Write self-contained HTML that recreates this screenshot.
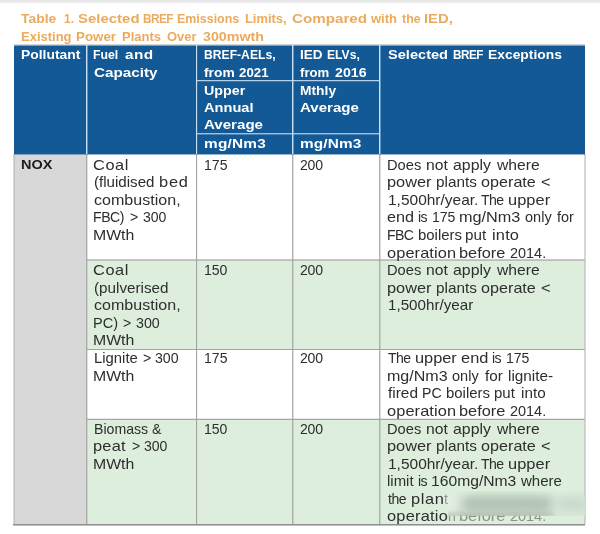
<!DOCTYPE html>
<html lang="en"><head><meta charset="utf-8"><title>Table 1. Selected BREF Emissions Limits</title>
<style>
html,body{margin:0;padding:0;}
body{width:600px;height:534px;position:relative;overflow:hidden;background:#fff;font-family:"Liberation Sans",sans-serif;}
.abs{position:absolute;}
.x{position:absolute;left:0;width:600px;height:20px;line-height:20px;white-space:pre;}
.x span{position:absolute;top:0;transform-origin:0 0;white-space:pre;}
.t{font-size:13.7px;font-weight:bold;color:#ebab5e;}
.h{font-size:13.6px;font-weight:bold;color:#fff;}
.b{font-size:14.5px;color:#2e2e2e;}
.n{font-size:13.6px;font-weight:bold;color:#1c1c1c;}
.x span.f{color:#8f9a90;}
.x span.g{color:#8a948b;filter:blur(0.5px);}
.sm{position:absolute;filter:blur(4px);border-radius:6px;}
</style></head>
<body>
<div class="abs" style="left:0;top:0;width:600px;height:4px;background:linear-gradient(#e6e6e6 0,#e9e9e9 45%,#f6f6f6 75%,#fff 100%)"></div>
<div class="abs" style="left:14px;top:45px;width:571px;height:109px;background:#135996;"></div>
<div class="abs" style="left:14px;top:44px;width:571px;height:1px;background:#d4d6d9;"></div>
<div class="abs" style="left:14px;top:45px;width:571px;height:1px;background:rgba(225,228,232,0.5);"></div>
<div class="abs" style="left:14px;top:154px;width:571px;height:1px;background:rgba(19,89,150,0.45);z-index:3"></div>
<div class="abs" style="left:14px;top:154px;width:73px;height:370px;background:#d8d8d8;"></div>
<div class="abs" style="left:87px;top:154px;width:498px;height:106px;background:#ffffff;"></div>
<div class="abs" style="left:87px;top:260px;width:498px;height:89px;background:#ddeedc;"></div>
<div class="abs" style="left:87px;top:349px;width:498px;height:70px;background:#ffffff;"></div>
<div class="abs" style="left:87px;top:419px;width:498px;height:105px;background:#ddeedc;"></div>
<div class="abs" style="left:87px;top:259px;width:498px;height:1px;background:rgba(165,165,165,0.62);"></div>
<div class="abs" style="left:87px;top:260px;width:498px;height:1px;background:rgba(165,165,165,0.62);"></div>
<div class="abs" style="left:87px;top:349px;width:498px;height:1px;background:rgba(165,165,165,1.00);"></div>
<div class="abs" style="left:87px;top:418px;width:498px;height:1px;background:rgba(165,165,165,0.25);"></div>
<div class="abs" style="left:87px;top:419px;width:498px;height:1px;background:rgba(165,165,165,1.00);"></div>
<div class="abs" style="left:86px;top:154px;width:1px;height:370px;background:rgba(165,165,165,0.88);"></div>
<div class="abs" style="left:87px;top:154px;width:1px;height:370px;background:rgba(165,165,165,0.37);"></div>
<div class="abs" style="left:196px;top:154px;width:1px;height:370px;background:rgba(165,165,165,1.00);"></div>
<div class="abs" style="left:197px;top:154px;width:1px;height:370px;background:rgba(165,165,165,0.12);"></div>
<div class="abs" style="left:292px;top:154px;width:1px;height:370px;background:rgba(165,165,165,0.87);"></div>
<div class="abs" style="left:293px;top:154px;width:1px;height:370px;background:rgba(165,165,165,0.38);"></div>
<div class="abs" style="left:379px;top:154px;width:1px;height:370px;background:rgba(165,165,165,0.87);"></div>
<div class="abs" style="left:380px;top:154px;width:1px;height:370px;background:rgba(165,165,165,0.38);"></div>
<div class="abs" style="left:13px;top:154px;width:1px;height:370px;background:rgba(170,170,170,0.45);"></div>
<div class="abs" style="left:14px;top:154px;width:1px;height:370px;background:rgba(170,170,170,0.45);"></div>
<div class="abs" style="left:584px;top:154px;width:1px;height:370px;background:rgba(185,185,185,0.60);"></div>
<div class="abs" style="left:585px;top:154px;width:1px;height:370px;background:rgba(185,185,185,0.60);"></div>
<div class="abs" style="left:13px;top:524px;width:572px;height:1px;background:#8e8e8e;"></div>
<div class="abs" style="left:13px;top:525px;width:572px;height:1px;background:rgba(120,120,120,0.45);"></div>
<div class="abs" style="left:86px;top:45px;width:1px;height:109px;background:rgba(200,224,246,1.00);"></div>
<div class="abs" style="left:87px;top:45px;width:1px;height:109px;background:rgba(200,224,246,0.43);"></div>
<div class="abs" style="left:196px;top:45px;width:1px;height:109px;background:rgba(200,224,246,1.00);"></div>
<div class="abs" style="left:197px;top:45px;width:1px;height:109px;background:rgba(200,224,246,0.14);"></div>
<div class="abs" style="left:292px;top:45px;width:1px;height:109px;background:rgba(200,224,246,1.00);"></div>
<div class="abs" style="left:293px;top:45px;width:1px;height:109px;background:rgba(200,224,246,0.44);"></div>
<div class="abs" style="left:379px;top:45px;width:1px;height:109px;background:rgba(200,224,246,1.00);"></div>
<div class="abs" style="left:380px;top:45px;width:1px;height:109px;background:rgba(200,224,246,0.44);"></div>
<div class="abs" style="left:197px;top:80px;width:183px;height:1px;background:rgba(200,224,246,0.88);"></div>
<div class="abs" style="left:197px;top:81px;width:183px;height:1px;background:rgba(200,224,246,0.22);"></div>
<div class="abs" style="left:197px;top:133px;width:183px;height:1px;background:rgba(200,224,246,0.77);"></div>
<div class="abs" style="left:197px;top:134px;width:183px;height:1px;background:rgba(200,224,246,0.33);"></div>
<div class="x t" style="top:8.85px"><span style="left:21.00px;transform:scaleX(1.0167)">Table</span> <span style="left:63.75px;transform:scaleX(0.8709)">1.</span> <span style="left:78.37px;transform:scaleX(1.0930)">Selected</span> <span style="left:142.96px;letter-spacing:-0.600px;transform:scaleX(0.8600)">BREF</span> <span style="left:177.42px;transform:scaleX(0.9089)">Emissions</span> <span style="left:245.19px;transform:scaleX(0.9415)">Limits,</span> <span style="left:291.53px;transform:scaleX(1.1077)">Compared</span> <span style="left:371.40px;transform:scaleX(0.9501)">with</span> <span style="left:402.00px;transform:scaleX(0.9055)">the</span> <span style="left:423.57px;transform:scaleX(1.0809)">IED,</span></div>
<div class="x t" style="top:27.05px"><span style="left:20.79px;transform:scaleX(0.9485)">Existing</span> <span style="left:76.17px;transform:scaleX(0.9735)">Power</span> <span style="left:121.68px;transform:scaleX(0.9521)">Plants</span> <span style="left:166.59px;transform:scaleX(0.9476)">Over</span> <span style="left:202.78px;transform:scaleX(1.0424)">300mwth</span></div>
<div class="x h" style="top:44.59px"><span style="left:20.73px;transform:scaleX(1.0200)">Pollutant</span></div>
<div class="x h" style="top:44.79px"><span style="left:93.48px;transform:scaleX(0.9029)">Fuel</span> <span style="left:125.26px;letter-spacing:0.399px;transform:scaleX(1.1300)">and</span></div>
<div class="x h" style="top:62.79px"><span style="left:93.77px;transform:scaleX(1.1224)">Capacity</span></div>
<div class="x h" style="top:44.79px"><span style="left:203.64px;transform:scaleX(0.8937)">BREF-AELs,</span></div>
<div class="x h" style="top:62.79px"><span style="left:204.18px;transform:scaleX(1.0144)">from</span> <span style="left:239.38px;transform:scaleX(0.9766)">2021</span></div>
<div class="x h" style="top:80.59px"><span style="left:203.93px;transform:scaleX(1.0504)">Upper</span></div>
<div class="x h" style="top:97.79px"><span style="left:204.37px;transform:scaleX(1.0739)">Annual</span></div>
<div class="x h" style="top:114.79px"><span style="left:204.36px;transform:scaleX(1.1098)">Average</span></div>
<div class="x h" style="top:133.89px"><span style="left:203.64px;letter-spacing:0.197px;transform:scaleX(1.1300)">mg/Nm3</span></div>
<div class="x h" style="top:44.79px"><span style="left:299.65px;transform:scaleX(0.9953)">IED</span> <span style="left:327.24px;transform:scaleX(0.8910)">ELVs,</span></div>
<div class="x h" style="top:62.79px"><span style="left:300.09px;transform:scaleX(0.9665)">from</span> <span style="left:334.56px;transform:scaleX(1.0444)">2016</span></div>
<div class="x h" style="top:80.59px"><span style="left:299.84px;transform:scaleX(1.0160)">Mthly</span></div>
<div class="x h" style="top:97.79px"><span style="left:300.46px;transform:scaleX(1.1079)">Average</span></div>
<div class="x h" style="top:133.89px"><span style="left:299.74px;letter-spacing:0.108px;transform:scaleX(1.1300)">mg/Nm3</span></div>
<div class="x h" style="top:44.69px"><span style="left:387.87px;transform:scaleX(1.0737)">Selected</span> <span style="left:452.77px;letter-spacing:-0.552px;transform:scaleX(0.8600)">BREF</span> <span style="left:487.88px;transform:scaleX(1.0196)">Exceptions</span></div>
<div class="x n" style="top:154.79px"><span style="left:20.79px;transform:scaleX(1.0667)">NOX</span></div>
<div class="x b" style="top:154.68px"><span style="left:93.33px;letter-spacing:0.487px;transform:scaleX(1.1300)">Coal</span></div>
<div class="x b" style="top:172.28px"><span style="left:94.39px;transform:scaleX(1.0418)">(fluidised</span> <span style="left:158.98px;letter-spacing:0.711px;transform:scaleX(1.1300)">bed</span></div>
<div class="x b" style="top:189.88px"><span style="left:93.60px;transform:scaleX(1.1077)">combustion,</span></div>
<div class="x b" style="top:207.48px"><span style="left:93.30px;letter-spacing:-0.477px;transform:scaleX(0.9700)">FBC)</span> <span style="left:130.12px;transform:scaleX(0.9700)">&gt;</span> <span style="left:142.56px;letter-spacing:-0.040px;transform:scaleX(0.9700)">300</span></div>
<div class="x b" style="top:225.08px"><span style="left:93.16px;transform:scaleX(1.0916)">MWth</span></div>
<div class="x b" style="top:259.98px"><span style="left:93.33px;letter-spacing:0.487px;transform:scaleX(1.1300)">Coal</span></div>
<div class="x b" style="top:277.58px"><span style="left:94.39px;transform:scaleX(1.0500)">(pulverised</span></div>
<div class="x b" style="top:295.18px"><span style="left:93.60px;transform:scaleX(1.1077)">combustion,</span></div>
<div class="x b" style="top:312.78px"><span style="left:93.26px;transform:scaleX(1.0048)">PC)</span> <span style="left:123.02px;transform:scaleX(0.9700)">&gt;</span> <span style="left:135.55px;transform:scaleX(0.9838)">300</span></div>
<div class="x b" style="top:330.38px"><span style="left:93.16px;transform:scaleX(1.0916)">MWth</span></div>
<div class="x b" style="top:348.18px"><span style="left:93.84px;transform:scaleX(1.0242)">Lignite</span> <span style="left:142.62px;transform:scaleX(0.9700)">&gt;</span> <span style="left:155.16px;transform:scaleX(0.9753)">300</span></div>
<div class="x b" style="top:365.78px"><span style="left:93.16px;transform:scaleX(1.0916)">MWth</span></div>
<div class="x b" style="top:418.88px"><span style="left:93.90px;transform:scaleX(0.9738)">Biomass</span> <span style="left:152.37px;transform:scaleX(0.9700)">&amp;</span></div>
<div class="x b" style="top:436.48px"><span style="left:93.38px;letter-spacing:0.200px;transform:scaleX(1.1300)">peat</span> <span style="left:131.52px;transform:scaleX(0.9700)">&gt;</span> <span style="left:143.96px;letter-spacing:-0.040px;transform:scaleX(0.9700)">300</span></div>
<div class="x b" style="top:454.08px"><span style="left:93.16px;transform:scaleX(1.0916)">MWth</span></div>
<div class="x b" style="top:154.68px"><span style="left:203.92px;letter-spacing:-0.009px;transform:scaleX(0.9700)">175</span></div>
<div class="x b" style="top:154.68px"><span style="left:300.14px;letter-spacing:-0.236px;transform:scaleX(0.9700)">200</span></div>
<div class="x b" style="top:259.98px"><span style="left:203.92px;letter-spacing:-0.122px;transform:scaleX(0.9700)">150</span></div>
<div class="x b" style="top:259.98px"><span style="left:300.14px;letter-spacing:-0.236px;transform:scaleX(0.9700)">200</span></div>
<div class="x b" style="top:348.18px"><span style="left:203.92px;letter-spacing:-0.009px;transform:scaleX(0.9700)">175</span></div>
<div class="x b" style="top:348.18px"><span style="left:300.14px;letter-spacing:-0.236px;transform:scaleX(0.9700)">200</span></div>
<div class="x b" style="top:418.88px"><span style="left:203.92px;letter-spacing:-0.122px;transform:scaleX(0.9700)">150</span></div>
<div class="x b" style="top:418.88px"><span style="left:300.14px;letter-spacing:-0.236px;transform:scaleX(0.9700)">200</span></div>
<div class="x b" style="top:154.68px"><span style="left:386.86px;transform:scaleX(1.0104)">Does</span> <span style="left:425.82px;transform:scaleX(1.0829)">not</span> <span style="left:453.10px;transform:scaleX(1.0932)">apply</span> <span style="left:496.64px;transform:scaleX(1.0810)">where</span></div>
<div class="x b" style="top:172.28px"><span style="left:386.88px;transform:scaleX(1.1268)">power</span> <span style="left:435.84px;transform:scaleX(1.0554)">plants</span> <span style="left:481.09px;transform:scaleX(1.1156)">operate</span> <span style="left:540.84px;transform:scaleX(1.1300)">&lt;</span></div>
<div class="x b" style="top:189.88px"><span style="left:387.83px;transform:scaleX(1.0676)">1,500hr/year.</span> <span style="left:481.29px;letter-spacing:-0.600px;transform:scaleX(0.9700)">The</span> <span style="left:508.48px;letter-spacing:0.066px;transform:scaleX(1.1300)">upper</span></div>
<div class="x b" style="top:207.48px"><span style="left:387.19px;transform:scaleX(1.1167)">end</span> <span style="left:418.44px;letter-spacing:-0.600px;transform:scaleX(0.9700)">is</span> <span style="left:431.62px;letter-spacing:-0.112px;transform:scaleX(0.9700)">175</span> <span style="left:459.28px;transform:scaleX(1.1202)">mg/Nm3</span> <span style="left:524.55px;transform:scaleX(1.0020)">only</span> <span style="left:557.20px;transform:scaleX(0.9970)">for</span></div>
<div class="x b" style="top:225.08px"><span style="left:386.90px;letter-spacing:-0.600px;transform:scaleX(0.9700)">FBC</span> <span style="left:417.57px;transform:scaleX(1.0277)">boilers</span> <span style="left:465.05px;transform:scaleX(1.0466)">put</span> <span style="left:491.68px;letter-spacing:0.168px;transform:scaleX(1.1300)">into</span></div>
<div class="x b" style="top:242.68px"><span style="left:387.19px;letter-spacing:0.078px;transform:scaleX(1.1300)">operation</span> <span style="left:459.28px;transform:scaleX(1.1282)">before</span> <span style="left:509.82px;transform:scaleX(0.9972)">2014.</span></div>
<div class="x b" style="top:259.98px"><span style="left:386.86px;transform:scaleX(1.0104)">Does</span> <span style="left:425.82px;transform:scaleX(1.0829)">not</span> <span style="left:453.10px;transform:scaleX(1.0932)">apply</span> <span style="left:496.64px;transform:scaleX(1.0810)">where</span></div>
<div class="x b" style="top:277.58px"><span style="left:386.88px;transform:scaleX(1.1268)">power</span> <span style="left:435.84px;transform:scaleX(1.0554)">plants</span> <span style="left:481.09px;transform:scaleX(1.1156)">operate</span> <span style="left:540.84px;transform:scaleX(1.1300)">&lt;</span></div>
<div class="x b" style="top:295.18px"><span style="left:387.85px;transform:scaleX(1.0468)">1,500hr/year</span></div>
<div class="x b" style="top:348.18px"><span style="left:387.78px;letter-spacing:-0.600px;transform:scaleX(0.9700)">The</span> <span style="left:414.98px;transform:scaleX(1.1272)">upper</span> <span style="left:460.79px;letter-spacing:0.042px;transform:scaleX(1.1300)">end</span> <span style="left:492.34px;letter-spacing:-0.600px;transform:scaleX(0.9700)">is</span> <span style="left:505.82px;letter-spacing:-0.112px;transform:scaleX(0.9700)">175</span></div>
<div class="x b" style="top:365.78px"><span style="left:386.70px;transform:scaleX(1.1071)">mg/Nm3</span> <span style="left:452.05px">only</span> <span style="left:485.00px;transform:scaleX(1.0504)">for</span> <span style="left:507.55px;transform:scaleX(1.0537)">lignite-</span></div>
<div class="x b" style="top:383.38px"><span style="left:387.70px;transform:scaleX(1.0623)">fired</span> <span style="left:421.60px;transform:scaleX(0.9726)">PC</span> <span style="left:445.77px;transform:scaleX(1.0301)">boilers</span> <span style="left:494.36px;transform:scaleX(1.0363)">put</span> <span style="left:521.34px;transform:scaleX(1.0555)">into</span></div>
<div class="x b" style="top:400.98px"><span style="left:387.19px;letter-spacing:0.078px;transform:scaleX(1.1300)">operation</span> <span style="left:459.28px;transform:scaleX(1.1282)">before</span> <span style="left:509.82px;transform:scaleX(0.9972)">2014.</span></div>
<div class="x b" style="top:418.88px"><span style="left:386.86px;transform:scaleX(1.0104)">Does</span> <span style="left:425.82px;transform:scaleX(1.0829)">not</span> <span style="left:453.10px;transform:scaleX(1.0932)">apply</span> <span style="left:496.64px;transform:scaleX(1.0810)">where</span></div>
<div class="x b" style="top:436.48px"><span style="left:386.88px;transform:scaleX(1.1268)">power</span> <span style="left:435.84px;transform:scaleX(1.0554)">plants</span> <span style="left:481.09px;transform:scaleX(1.1156)">operate</span> <span style="left:540.84px;transform:scaleX(1.1300)">&lt;</span></div>
<div class="x b" style="top:454.08px"><span style="left:387.83px;transform:scaleX(1.0676)">1,500hr/year.</span> <span style="left:481.29px;letter-spacing:-0.600px;transform:scaleX(0.9700)">The</span> <span style="left:508.48px;letter-spacing:0.066px;transform:scaleX(1.1300)">upper</span></div>
<div class="x b" style="top:471.28px"><span style="left:387.37px;transform:scaleX(1.0315)">limit</span> <span style="left:418.49px;letter-spacing:-0.600px;transform:scaleX(0.9700)">is</span> <span style="left:431.32px;transform:scaleX(1.0802)">160mg/Nm3</span> <span style="left:520.73px;transform:scaleX(1.0350)">where</span></div>
<div class="x b" style="top:489.28px"><span style="left:388.00px;letter-spacing:-0.506px;transform:scaleX(0.9700)">the</span> <span style="left:411.28px;letter-spacing:0.551px;transform:scaleX(1.1300)">plan</span><span class="f" style="left:444.24px;transform:scaleX(0.9700)">t</span></div>
<div class="x b" style="top:505.88px"><span style="left:387.49px;letter-spacing:0.198px;transform:scaleX(1.1300)">operatio</span><span class="g" style="left:448.49px;transform:scaleX(0.9700)">n</span> <span class="g" style="left:459.28px;transform:scaleX(1.1282)">before</span> <span class="g" style="left:509.82px;transform:scaleX(0.9972)">2014.</span></div>
<div class="abs" style="left:448px;top:491px;width:137px;height:25px;overflow:hidden"><div class="abs" style="left:0;top:1px;width:137px;height:24px;background:linear-gradient(90deg,rgba(226,239,226,0.9) 0,rgba(218,232,219,0.95) 14px,rgba(217,232,218,0.95) 100%);-webkit-mask-image:linear-gradient(180deg,transparent 0,#000 9px,#000 22.5px,rgba(0,0,0,0.3) 25px);mask-image:linear-gradient(180deg,transparent 0,#000 9px,#000 22.5px,rgba(0,0,0,0.3) 25px)"></div><div class="sm" style="left:14px;top:5px;width:90px;height:16px;background:rgba(110,125,112,0.36);filter:blur(5px)"></div><div class="sm" style="left:110px;top:6px;width:30px;height:14px;background:rgba(110,125,112,0.15);filter:blur(5px)"></div><div class="sm" style="left:-4px;top:21px;width:110px;height:6px;background:rgba(110,125,112,0.25);filter:blur(2px)"></div></div>
</body></html>
